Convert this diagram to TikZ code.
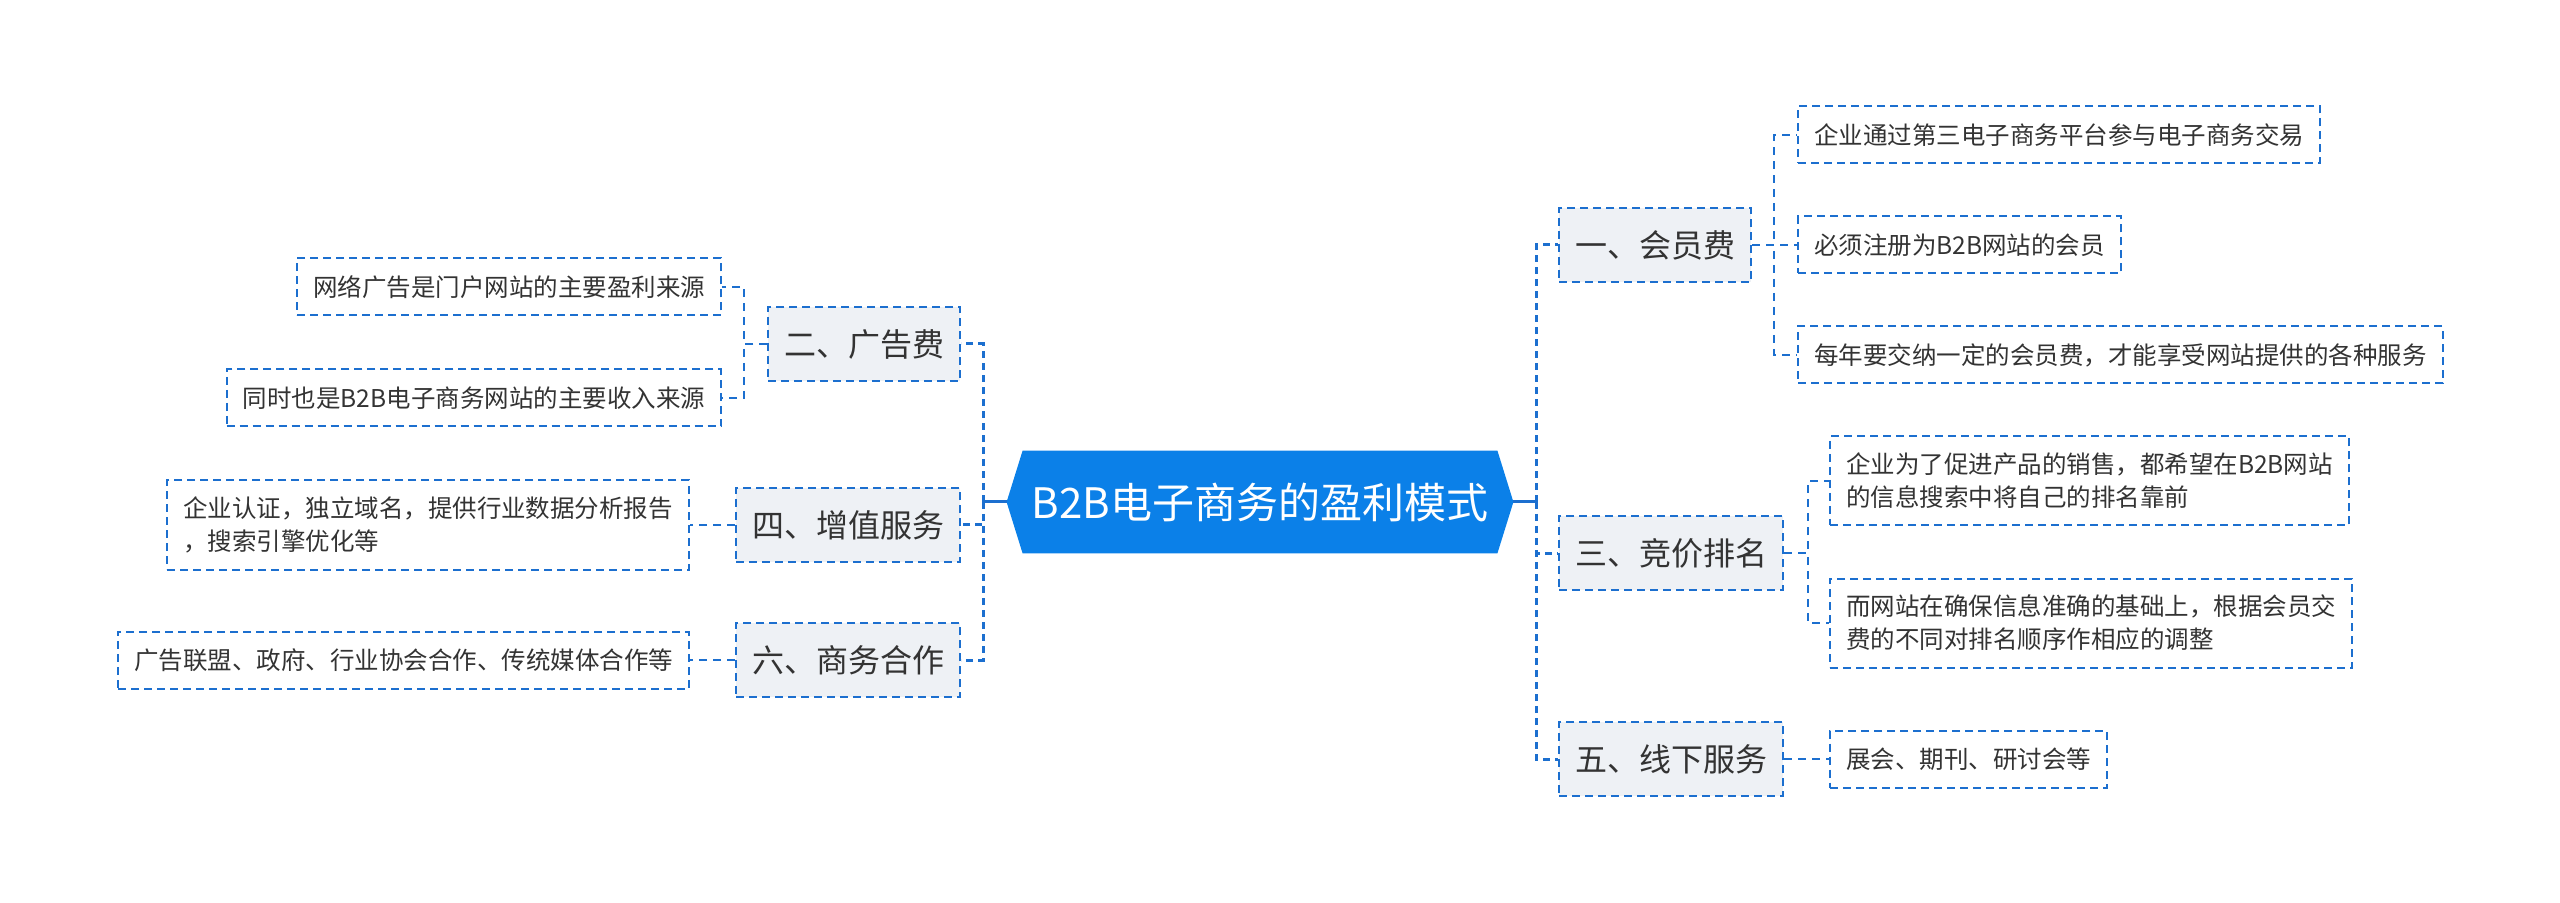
\documentclass[tikz,border=0pt]{standalone}
\usepackage{fontspec}
\usepackage{xcolor}
\newfontfamily\cjk{Noto Sans CJK SC}
\usetikzlibrary{backgrounds}
\definecolor{ink}{HTML}{333333}
\definecolor{rootBlue}{HTML}{0B80E8}
\definecolor{linkBlue}{HTML}{1C6FCF}
\definecolor{topicFill}{HTML}{EEF1F5}
\tikzset{
  root card/.style={
    minimum width=237pt,
    minimum height=51pt,
    inner sep=0pt,
    font=\cjk\fontsize{21pt}{25pt}\selectfont,
    text=white
  },
  topic card/.style={
    draw=linkBlue,
    fill=topicFill,
    dash pattern=on 4pt off 2.5pt,
    line width=1pt,
    inner xsep=8pt,
    inner ysep=0pt,
    minimum height=37pt,
    font=\cjk\fontsize{16pt}{19pt}\selectfont,
    text=ink
  },
  leaf card/.style={
    draw=linkBlue,
    fill=white,
    dash pattern=on 4pt off 2.5pt,
    line width=1pt,
    inner xsep=8pt,
    inner ysep=0pt,
    minimum height=28.5pt,
    align=left,
    font=\cjk\fontsize{12.25pt}{16.5pt}\selectfont,
    text=ink
  },
  tall leaf/.style={
    leaf card,
    minimum height=44.5pt
  },
  stem edge/.style={
    draw=linkBlue,
    line width=1.5pt
  },
  trunk edge/.style={
    draw=linkBlue,
    line width=1.5pt,
    dash pattern=on 3.5pt off 2.5pt
  },
  leaf edge/.style={
    draw=linkBlue,
    line width=1pt,
    dash pattern=on 4pt off 3pt
  }
}

\begin{document}
\begin{tikzpicture}[x=0.5pt,y=-0.5pt]
  \useasboundingbox (0,0) rectangle (2560,903);

  % centre
  \node[root card] (root) at (1260,502) {B2B电子商务的盈利模式};
  \coordinate (rootL) at ([xshift=-8pt]root.west);
  \coordinate (rootR) at ([xshift=8pt]root.east);
  \begin{scope}[on background layer]
    \fill[rootBlue] (root.north west) -- (root.north east) -- (rootR)
      -- (root.south east) -- (root.south west) -- (rootL) -- cycle;
  \end{scope}
  \coordinate (rtrunk) at (1536,502);
  \coordinate (ltrunk) at (983,502);

  % right branches
  \node[topic card,anchor=west] (fee) at (1558,245) {一、会员费};
  \node[topic card,anchor=west] (bid) at (1558,553) {三、竞价排名};
  \node[topic card,anchor=west] (offline) at (1558,759) {五、线下服务};

  \node[leaf card,anchor=west] (fee1) at (1797,135) {企业通过第三电子商务平台参与电子商务交易};
  \node[leaf card,anchor=west] (fee2) at (1797,245) {必须注册为B2B网站的会员};
  \node[leaf card,anchor=west] (fee3) at (1797,355) {每年要交纳一定的会员费，才能享受网站提供的各种服务};

  \node[tall leaf,anchor=west] (bid1) at (1829,481) {企业为了促进产品的销售，都希望在B2B网站\\的信息搜索中将自己的排名靠前};
  \node[tall leaf,anchor=west] (bid2) at (1829,623) {而网站在确保信息准确的基础上，根据会员交\\费的不同对排名顺序作相应的调整};
  \node[leaf card,anchor=west] (offline1) at (1829,759) {展会、期刊、研讨会等};

  % left branches
  \node[topic card,anchor=east] (ads) at (961,344) {二、广告费};
  \node[topic card,anchor=east] (value) at (961,525) {四、增值服务};
  \node[topic card,anchor=east] (coop) at (961,660) {六、商务合作};

  \node[leaf card,anchor=east] (ads1) at (722,287) {网络广告是门户网站的主要盈利来源};
  \node[leaf card,anchor=east] (ads2) at (722,398) {同时也是B2B电子商务网站的主要收入来源};
  \node[tall leaf,anchor=east] (value1) at (690,525) {企业认证，独立域名，提供行业数据分析报告\\，搜索引擎优化等};
  \node[leaf card,anchor=east] (coop1) at (690,660) {广告联盟、政府、行业协会合作、传统媒体合作等};

  % connectors
  \draw[stem edge] (rootR) -- (rtrunk);
  \draw[stem edge] (rootL) -- (ltrunk);
  \foreach \t in {fee,bid,offline}
    \draw[trunk edge] (rtrunk) |- (\t.west);
  \foreach \t in {ads,value,coop}
    \draw[trunk edge] (ltrunk) |- (\t.east);

  \foreach \l in {fee1,fee2,fee3}
    \draw[leaf edge] (fee.east) -- ++(22,0) |- (\l.west);
  \foreach \l in {bid1,bid2}
    \draw[leaf edge] (bid.east) -- ++(24,0) |- (\l.west);
  \draw[leaf edge] (offline.east) -- (offline1.west);
  \foreach \l in {ads1,ads2}
    \draw[leaf edge] (ads.west) -- ++(-23,0) |- (\l.east);
  \draw[leaf edge] (value.west) -- (value1.east);
  \draw[leaf edge] (coop.west) -- (coop1.east);
\end{tikzpicture}
\end{document}
